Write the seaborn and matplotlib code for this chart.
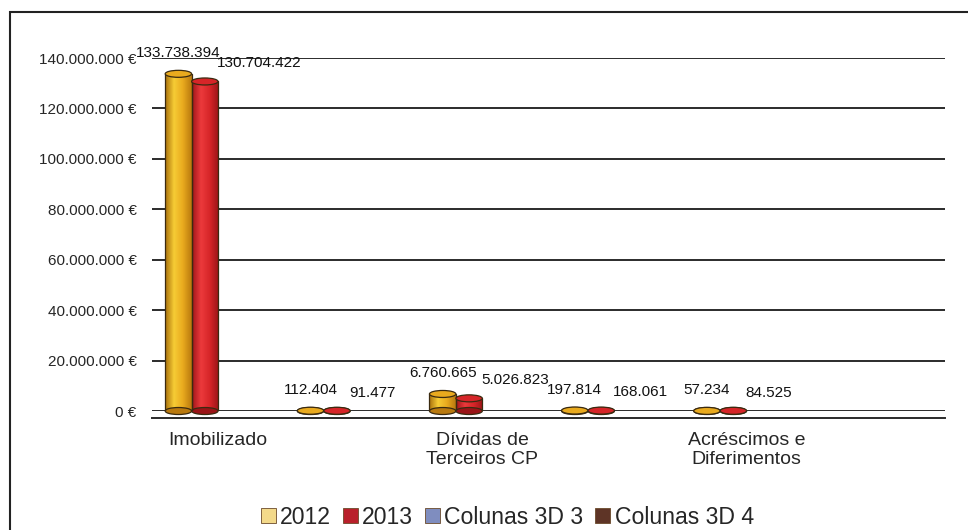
import numpy as np
import pandas as pd
import matplotlib
matplotlib.use("Agg")
import matplotlib.pyplot as plt
import matplotlib.transforms as mtransforms
import seaborn as sns
from matplotlib.patches import Ellipse, Patch, Rectangle
from matplotlib.colors import LinearSegmentedColormap

# --- data -----------------------------------------------------------------
categories = ["Imobilizado", " ", "Dívidas de\nTerceiros CP", "  ",
              "Acréscimos e\nDiferimentos", "   "]
series = ["2012", "2013", "Colunas 3D 3", "Colunas 3D 4"]
values_2012 = [133738394, 112404, 6760665, 197814, 57234, np.nan]
values_2013 = [130704422, 91477, 5026823, 168061, 84525, np.nan]
y_ticks = [0, 20e6, 40e6, 60e6, 80e6, 100e6, 120e6, 140e6]

bar_colors = {"2012": "#E2A11C", "2013": "#D52529",
              "Colunas 3D 3": "#6475A8", "Colunas 3D 4": "#5B3124"}
shades = {"2012": ["#A9700C", "#F6CC35", "#E9AA1E", "#B9790E"],
          "2013": ["#A1161A", "#EC3A3C", "#D62528", "#9A1417"]}
legend_colors = ["#F3D98A", "#B9202B", "#7F8DBF", "#5E3426"]

rows = []
for cat, a, b in zip(categories, values_2012, values_2013):
    rows.append({"cat": cat, "serie": "2012", "valor": a})
    rows.append({"cat": cat, "serie": "2013", "valor": b})
df = pd.DataFrame(rows).dropna()

# --- figure ---------------------------------------------------------------
sns.set_theme(style="white")
plt.rcParams["font.family"] = ["Liberation Sans", "DejaVu Sans"]

fig = plt.figure(figsize=(9.68, 5.30), dpi=100)
ax_pos = [0.157, 0.2245, 0.819, 0.666]
ax = fig.add_axes(ax_pos)

sns.barplot(data=df, x="cat", y="valor", hue="serie", order=categories,
            hue_order=series, palette=bar_colors, width=0.8, dodge=True,
            errorbar=None, edgecolor="none", linewidth=0, ax=ax, legend=False)

ax.set_ylim(0, 140e6)
ax.set_xlim(-0.5, len(categories) - 0.5)

# pixel-to-data factor for ellipse caps
px_per_unit = (ax_pos[3] * 530) / 140e6
cap_h = 7 / px_per_unit

# cylinder shading and caps
for container, name in zip(ax.containers, series):
    if name not in shades:
        continue
    cmap = LinearSegmentedColormap.from_list(name, shades[name])
    grad = np.linspace(0, 1, 64).reshape(1, -1)
    for patch in container:
        h = patch.get_height()
        if not np.isfinite(h):
            continue
        x0, w = patch.get_x(), patch.get_width()
        im = ax.imshow(grad, cmap=cmap, aspect="auto",
                       extent=[x0, x0 + w, 0, h], zorder=3)
        im.set_clip_path(patch)
        ax.plot([x0, x0], [0, h], color="#3a2a10", lw=0.9, zorder=4)
        ax.plot([x0 + w, x0 + w], [0, h], color="#3a2a10", lw=0.9, zorder=4)
        bottom = Ellipse((x0 + w / 2, 0), w, cap_h, facecolor=shades[name][3],
                         edgecolor="#3a2a10", lw=0.9, zorder=3, clip_on=False)
        top = Ellipse((x0 + w / 2, h), w, cap_h, facecolor=shades[name][2],
                      edgecolor="#3a2a10", lw=0.9, zorder=5, clip_on=False)
        ax.add_patch(bottom)
        ax.add_patch(top)

# value labels: 2012 centred over its bar, 2013 starting near its bar's right edge
label_style = {"2012": dict(dx=0, dy=10, ha="center", anchor=0.5),
               "2013": dict(dx=-1, dy=8, ha="left", anchor=1.0)}
for container, name in zip(ax.containers, series):
    if name not in label_style:
        continue
    st = label_style[name]
    for patch in container:
        h = patch.get_height()
        if not np.isfinite(h):
            continue
        txt = f"{h:,.0f}".replace(",", ".")
        xa = patch.get_x() + patch.get_width() * st["anchor"]
        ax.annotate(txt, (xa, h), xytext=(st["dx"], st["dy"]),
                    textcoords="offset points", ha=st["ha"], va="bottom",
                    fontsize=11, color="#111111", zorder=6,
                    annotation_clip=False)

# axes styling
ax.set_yticks(y_ticks)
ax.set_yticklabels([f"{v:,.0f} €".replace(",", ".") for v in y_ticks],
                   fontsize=11)
shift = mtransforms.ScaledTranslation(0, -5 / 100, fig.dpi_scale_trans)
for lbl in ax.get_yticklabels():
    lbl.set_transform(lbl.get_transform() + shift)
ax.yaxis.grid(True, color="#2b2b2b", lw=1.4)
ax.set_axisbelow(True)
ax.set_xlabel("")
ax.set_ylabel("")
ax.tick_params(axis="x", which="major", length=0, labelsize=14, pad=10)
ax.tick_params(axis="y", length=5, width=1, color="#2b2b2b", pad=6,
               direction="out")
ax.set_xticks(np.arange(-0.5, len(categories) - 0.4, 1.0), minor=True)
ax.tick_params(axis="x", which="minor", length=5, width=1.2,
               color="#2b2b2b", direction="out")
for side in ["top", "right", "left"]:
    ax.spines[side].set_visible(False)
ax.spines["bottom"].set_position(("outward", 5))
ax.spines["bottom"].set_color("#2b2b2b")
ax.spines["bottom"].set_linewidth(1.4)

# legend
handles = [Patch(facecolor=c, edgecolor="#6b4a2a", lw=0.6) for c in legend_colors]
fig.legend(handles, series, loc="center", bbox_to_anchor=(0.524, 0.0245),
           ncol=4, frameon=False, fontsize=16.6, handlelength=0.65,
           handleheight=0.65, handletextpad=0.2, columnspacing=0.5,
           borderpad=0)

# outer frame
fig.patches.append(Rectangle((10 / 968, -0.05), 1.1, 1 - 12 / 530 + 0.05,
                             transform=fig.transFigure, fill=False,
                             edgecolor="#222222", lw=1.5))

fig.savefig("out.png", dpi=100)
